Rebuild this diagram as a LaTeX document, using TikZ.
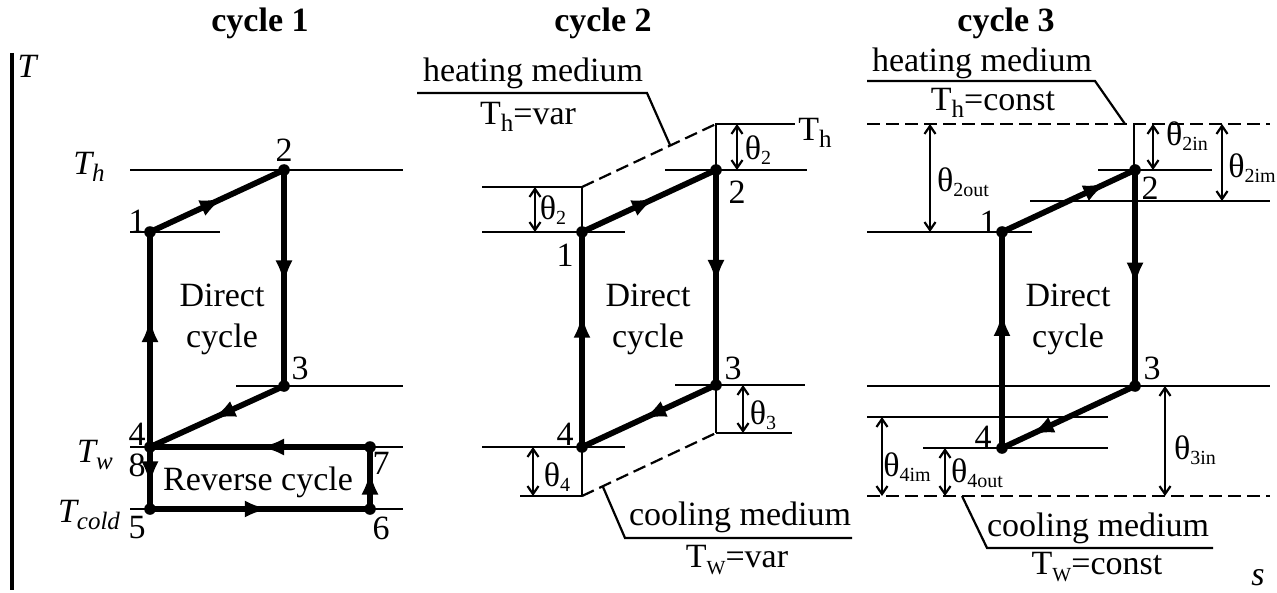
\documentclass[tikz,border=0pt]{standalone}
\usepackage{fontspec}
\setmainfont{Liberation Serif}
\usetikzlibrary{arrows.meta,decorations.markings}
\newcommand\thsub[1]{\raisebox{-0.3ex}{\fontsize{10}{10}\selectfont #1}}
\newcommand\tsub[1]{\raisebox{-0.45ex}{\fontsize{12.5}{12.5}\selectfont #1}}
\begin{document}
\begin{tikzpicture}[x=0.5pt,y=-0.5pt,
  every node/.style={font=\fontsize{17}{19.5}\selectfont,inner sep=0pt},
  thinl/.style={line width=1.1pt},
  thk/.style={line width=2.9pt},
  axisl/.style={line width=2pt},
  dashl/.style={line width=1.1pt,dash pattern=on 6.5pt off 3pt},
  dimarr/.style={line width=1.1pt,{Straight Barb[length=4pt,width=5.5pt]}-{Straight Barb[length=4pt,width=5.5pt]}},
  dot/.style={circle,fill,inner sep=0pt,minimum size=5.8pt},
  ma/.style={postaction={decorate},decoration={markings,mark=at position #1 with {\arrow{Latex[length=12pt,width=8.5pt]}}}},
]
\useasboundingbox (0,0) rectangle (1277,593);

% ---------- titles and axes
\node (ti1) at (260,23) {\textbf{cycle 1}};
\node (ti2) at (603,23) {\textbf{cycle 2}};
\node (ti3) at (1006,23) {\textbf{cycle 3}};
\draw[axisl] (12,53) -- (12,590);
\node (lT) at (28,66) {\textit{T}};
\node (ls) at (1258,578) {\textit{s}};

% ================= cycle 1
\draw[thinl] (130,170) -- (403,170);
\draw[thinl] (130,232) -- (220,232);
\draw[thinl] (236,386) -- (403,386);
\draw[thinl] (130,447) -- (403,447);
\draw[thinl] (130,509) -- (403,509);
\node[dot] (a1) at (150,232) {};
\node[dot] (a2) at (284,170) {};
\node[dot] (a3) at (284,386) {};
\node[dot] (a4) at (150,447) {};
\node[dot] (a5) at (150,509) {};
\node[dot] (a6) at (370,509) {};
\node[dot] (a7) at (370,447) {};
\draw[thk,ma=0.55] (a1.center) -- (a2.center);
\draw[thk,ma=0.53] (a2.center) -- (a3.center);
\draw[thk,ma=0.54] (a3.center) -- (a4.center);
\draw[thk,ma=0.6] (a4.center) -- (a1.center);
\draw[thk,ma=0.5] (a7.center) -- (a4.center);
\draw[thk,ma=0.62] (a4.center) -- (a5.center);
\draw[thk,ma=0.54] (a5.center) -- (a6.center);
\draw[thk,ma=0.62] (a6.center) -- (a7.center);
\node (n1a) at (137,221) {1};
\node (n2a) at (284,150) {2};
\node (n3a) at (300,368) {3};
\node (n4a) at (137,434) {4};
\node (n8a) at (137,465) {8};
\node (n7a) at (381,463) {7};
\node (n5a) at (137,528) {5};
\node (n6a) at (381,528) {6};
\node (lTh) at (89,167) {\textit{T\tsub{h}}};
\node (lTw) at (95,455) {\textit{T\tsub{w}}};
\node (lTc) at (89,515) {\textit{T\tsub{cold}}};
\node[align=center] (dc1) at (222,319) {Direct\\[1pt]cycle};
\node (rc) at (258,482) {Reverse cycle};

% ================= cycle 2
\draw[thinl] (715,124) -- (795,124);
\draw[thinl] (665,170) -- (807,170);
\draw[thinl] (482,187) -- (582,187);
\draw[thinl] (482,232) -- (625,232);
\draw[thinl] (675,385) -- (805,385);
\draw[thinl] (716,433) -- (792,433);
\draw[thinl] (482,447) -- (625,447);
\draw[thinl] (520,496) -- (582,496);
\draw[thinl] (582,187) -- (582,232);
\draw[thinl] (716,124) -- (716,170);
\draw[thinl] (716,385) -- (716,433);
\draw[thinl] (582,447) -- (582,496);
\draw[dashl] (582,187) -- (716,124);
\draw[dashl] (582,496) -- (716,433);
\draw[dimarr] (535,187) -- (535,232);
\draw[dimarr] (737,124) -- (737,170);
\draw[dimarr] (743,385) -- (743,433);
\draw[dimarr] (533,447) -- (533,496);
\node[dot] (b1) at (582,232) {};
\node[dot] (b2) at (716,170) {};
\node[dot] (b3) at (716,385) {};
\node[dot] (b4) at (582,447) {};
\draw[thk,ma=0.55] (b1.center) -- (b2.center);
\draw[thk,ma=0.53] (b2.center) -- (b3.center);
\draw[thk,ma=0.55] (b3.center) -- (b4.center);
\draw[thk,ma=0.62] (b4.center) -- (b1.center);
\node (n1b) at (565,255) {1};
\node (n2b) at (737,192) {2};
\node (n3b) at (733,368) {3};
\node (n4b) at (565,434) {4};
\node (th2l) at (553,210) {θ\thsub{2}};
\node (th2r) at (758,150) {θ\thsub{2}};
\node (th3b) at (763,415) {θ\thsub{3}};
\node (th4b) at (557,477) {θ\thsub{4}};
\node (Thr) at (815,133) {T\tsub{h}};
\node[align=center] (dc2) at (648,319) {Direct\\[1pt]cycle};
\node (hm2) at (533,73) {heating medium};
\node (thv) at (528,117) {T\tsub{h}=var};
\draw[thinl] (417,93) -- (647,93) -- (670,145);
\node (cm2) at (740,517) {cooling medium};
\node (twv) at (737,560) {T\tsub{\fontsize{10}{10}\selectfont W}=var};
\draw[thinl] (603,487) -- (625,538) -- (852,538);

% ================= cycle 3
\draw[dashl] (867,124) -- (1270,124);
\draw[dashl] (867,496) -- (1270,496);
\draw[thinl] (1098,170) -- (1212,170);
\draw[thinl] (1030,201) -- (1270,201);
\draw[thinl] (867,232) -- (1032,232);
\draw[thinl] (867,386) -- (1270,386);
\draw[thinl] (867,417) -- (1108,417);
\draw[thinl] (923,448) -- (1108,448);
\draw[thinl] (1134,124) -- (1134,170);
\draw[dimarr] (930,124) -- (930,232);
\draw[dimarr] (1153,124) -- (1153,170);
\draw[dimarr] (1222,124) -- (1222,201);
\draw[dimarr] (882,417) -- (882,496);
\draw[dimarr] (945,448) -- (945,496);
\draw[dimarr] (1165,386) -- (1165,496);
\node[dot] (c1) at (1002,232) {};
\node[dot] (c2) at (1135,170) {};
\node[dot] (c3) at (1135,386) {};
\node[dot] (c4) at (1002,448) {};
\draw[thk,ma=0.79] (c1.center) -- (c2.center);
\draw[thk,ma=0.54] (c2.center) -- (c3.center);
\draw[thk,ma=0.79] (c3.center) -- (c4.center);
\draw[thk,ma=0.63] (c4.center) -- (c1.center);
\node (n1c) at (988,222) {1};
\node (n2c) at (1150,188) {2};
\node (n3c) at (1152,368) {3};
\node (n4c) at (983,437) {4};
\node (th2o) at (963,182) {θ\thsub{2out}};
\node (th2i) at (1187,136) {θ\thsub{2in}};
\node (th2m) at (1252,168) {θ\thsub{2im}};
\node (th4m) at (907,467) {θ\thsub{4im}};
\node (th4o) at (977,473) {θ\thsub{4out}};
\node (th3i) at (1195,450) {θ\thsub{3in}};
\node[align=center] (dc3) at (1068,319) {Direct\\[1pt]cycle};
\node (hm3) at (982,63) {heating medium};
\node (thc) at (993,103) {T\tsub{h}=const};
\draw[thinl] (867,81) -- (1095,81) -- (1125,124);
\node (cm3) at (1098,528) {cooling medium};
\node (twc) at (1097,567) {T\tsub{\fontsize{10}{10}\selectfont W}=const};
\draw[thinl] (962,496) -- (987,548) -- (1213,548);
\end{tikzpicture}
\end{document}
